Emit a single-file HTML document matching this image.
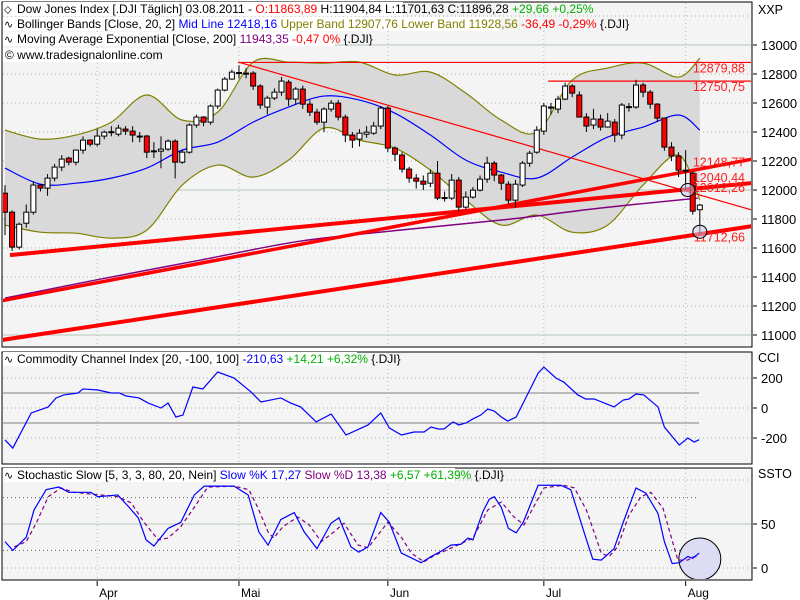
<!DOCTYPE html>
<html><head><meta charset="utf-8"><style>
html,body{margin:0;padding:0;background:#fff;}
svg{display:block;font-family:"Liberation Sans",sans-serif;}
</style></head><body>
<svg id="chart" width="800" height="600" viewBox="0 0 800 600" xmlns="http://www.w3.org/2000/svg">
<defs>
<clipPath id="cMain"><rect x="3" y="3" width="748" height="343"/></clipPath>
<clipPath id="cCci"><rect x="3" y="353" width="748" height="110"/></clipPath>
<clipPath id="cSto"><rect x="3" y="469" width="748" height="110"/></clipPath>
</defs>
<rect x="2" y="2" width="750" height="345" fill="#f4f4f4" stroke="#000"/>
<rect x="2" y="352" width="750" height="112" fill="#f4f4f4" stroke="#000"/>
<rect x="2" y="468" width="750" height="112" fill="#f4f4f4" stroke="#000"/>
<g id="grid"></g>
<g id="mainG" clip-path="url(#cMain)"></g>
<g id="cciG" clip-path="url(#cCci)"></g>
<g id="stoG" clip-path="url(#cSto)"></g>
<g id="axes"></g>
<g id="legends" font-size="12"></g>
</svg>
<script>
// ---- data ----
const openP=[11978,11847,11606,11771,11847,12034,12013,12082,12158,12220,12192,12275,12344,12316,12372,12399,12385,12420,12406,12372,12372,12268,12268,12282,12337,12192,12261,12448,12503,12468,12579,12689,12765,12806,12806,12806,12717,12572,12634,12675,12744,12627,12696,12592,12537,12468,12558,12599,12503,12379,12351,12385,12392,12441,12565,12289,12241,12144,12082,12061,12047,12116,11944,11944,12068,11882,11951,11999,12075,12185,12103,12040,11930,12034,12185,12261,12406,12572,12558,12627,12717,12655,12503,12448,12489,12434,12468,12379,12572,12572,12724,12675,12592,12496,12296,12234,12137,12116,11864];
const closeP=[11847,11606,11764,11847,12034,12013,12082,12158,12213,12192,12275,12344,12316,12372,12399,12402,12427,12406,12379,12370,12261,12270,12282,12337,12192,12261,12448,12503,12468,12579,12689,12765,12813,12810,12806,12717,12586,12634,12675,12751,12627,12696,12592,12537,12468,12558,12599,12503,12379,12344,12392,12399,12441,12565,12289,12247,12144,12082,12061,12040,12116,11944,11948,12068,11882,11951,11999,12075,12185,12103,12047,11930,12040,12185,12254,12413,12579,12565,12627,12717,12668,12503,12441,12489,12434,12475,12379,12586,12575,12724,12675,12592,12496,12296,12234,12137,12130,11854,11896];
const highP=[12034,11860,11775,11900,12060,12040,12110,12180,12240,12230,12280,12370,12350,12420,12410,12440,12450,12440,12440,12400,12380,12330,12370,12350,12350,12280,12460,12520,12510,12590,12700,12780,12830,12860,12840,12820,12730,12650,12700,12780,12760,12710,12720,12620,12560,12570,12620,12620,12520,12400,12420,12440,12470,12580,12580,12300,12260,12160,12110,12100,12140,12200,11990,12110,12090,11990,12020,12100,12230,12200,12110,12060,12070,12200,12270,12440,12600,12600,12650,12740,12730,12680,12530,12560,12520,12530,12490,12600,12600,12760,12740,12690,12600,12500,12330,12260,12275,12130,11905];
const lowP=[11689,11580,11590,11740,11830,11990,11960,12060,12130,12170,12170,12250,12300,12300,12350,12370,12370,12380,12330,12330,12220,12220,12150,12270,12080,12180,12250,12430,12440,12450,12560,12680,12760,12770,12770,12690,12560,12520,12620,12650,12580,12590,12560,12510,12450,12400,12540,12480,12330,12290,12300,12360,12380,12420,12260,12200,12120,12050,12010,12000,12020,11930,11920,11930,11850,11870,11940,11990,12050,12060,12000,11900,11880,12020,12160,12250,12380,12520,12530,12620,12640,12500,12400,12420,12410,12430,12330,12350,12540,12560,12640,12560,12470,12270,12200,12090,12000,11830,11702];
const bandIdx=[0,5,10,15,20,25,30,35,40,45,50,55,60,65,70,75,80,85,90,95,98];
const upperBand=[12413,12351,12379,12468,12655,12482,12537,12882,12882,12875,12882,12793,12813,12668,12482,12399,12758,12841,12875,12779,12910];
const midBand=[12151,12040,12047,12082,12151,12275,12330,12468,12572,12648,12620,12530,12379,12206,12123,12082,12227,12365,12434,12517,12413];
const lowerBand=[11758,11709,11702,11668,11723,12034,12172,12089,12206,12427,12344,12289,12137,11930,11758,11827,11709,11758,12034,12241,11930];
const emaIdx=[0,13.4,27.5,41.6,55.7,71.2,83.9,97.7];
const emaVal=[11254,11385,11516,11647,11723,11799,11875,11944];
const cciIdx=[0,1.1,3.7,6.1,7.2,8.3,10.3,11,13.1,15,16.1,17.1,18.9,20.2,22,23,24.1,25.1,26.5,27.9,30,32.3,34.7,36.1,38.9,40.3,41.7,43.9,46,48.1,51.2,53,54.2,55.9,57.7,59.1,60.1,61.1,61.9,63.2,64,65,66,67.1,68.1,69,70,70.9,72.1,73.8,75.2,76,77.7,78.8,80.8,81.9,83.1,85.9,87.2,88,89,90.1,92.1,93,95.1,96.3,97.2,97.9];
const cciVal=[-213,-267,-33,7,67,87,100,127,120,100,100,80,67,33,0,33,-60,-47,140,127,240,200,107,40,67,33,7,-93,-40,-180,-113,-33,-133,-180,-160,-160,-127,-140,-140,-93,-113,-100,-73,-47,-7,-20,-60,-87,-60,100,233,273,200,173,87,60,60,7,53,60,93,87,7,-127,-247,-200,-227,-211];
const kIdx=[0,1.1,3,4.1,5.8,7.6,9,12.1,13.1,15.9,17.5,18.8,19.9,21,23,24.8,26.7,28.1,32.3,34.3,35.8,37.1,38.9,40.8,42.2,44,46,47.1,48.8,49.9,51.2,53,54.2,55.9,58.7,60.1,61.5,62.9,64.3,65.3,66,67.4,68.3,69,70,71,72.1,73.1,75.2,78.4,79.8,81.7,82.9,84.1,85.9,87.2,89,90.4,92.1,93,94.1,95.1,96.3,97,97.9];
const kVal=[30,20,35,66,89,92,86,86,81,83,69,57,32,25,45,52,83,93,93,83,41,26,55,63,41,22,51,57,24,18,24,63,52,17,6,13,19,26,27,34,32,64,78,81,69,45,40,52,94,94,89,40,10,9,22,52,91,85,62,30,5,6,13,11,17];
const dIdx=[1.3,3,4.4,6.1,7.9,9.7,15.9,17.8,19.6,21.6,23,24.8,26.7,28.6,32.3,34.4,35.7,37.1,37.9,39.2,41.3,42.9,44.6,46.4,47.8,49.8,51.2,54,55.9,57.3,59.1,60.5,63.3,66,68.1,70,71.8,73.2,76,78.8,80.3,82,84.1,85.2,86.4,88,89.7,91.1,92.8,94.9,96.3,97.2,97.9];
const dVal=[24,30,51,81,91,86,81,74,52,32,34,47,69,92,93,89,68,41,34,47,58,49,30,41,51,26,23,52,35,17,7,14,24,34,66,75,58,49,91,94,91,66,17,13,24,60,81,86,68,9,9,13,13];
const priceTicks=[13000,12800,12600,12400,12200,12000,11800,11600,11400,11200,11000];
const cciTicks=[200,0,-200];
const stoTicks=[50,0];
const monthLabels=["Apr","Mai","Jun","Jul","Aug"];
const monthIdx=[13,33,54,76,96];
const trendLines=[[-0.4,10966,105.4,11751],[0.7,11551,105.4,12048],[-0.4,11237,105.4,12213],[32.9,12882,105.4,11861]];
const levelPrices=[12879.88,12750.75];
const levelStart=[32.9,76.6];
const markerLabels=["12879,88","12750,75","12148,77","12040,44","12012,26","11712,66"];
const markerPrices=[12879.88,12750.75,12148.77,12040.44,12012.26,11712.66];
// ---- scales ----
const NS="http://www.w3.org/2000/svg";
const X=i=>5+i*7.09;
const Y=p=>45+(13000-p)*0.145;
const YC=v=>408-v*0.15;
const YS=v=>568-v*0.88;
function el(tag,attrs,parent,txt){const e=document.createElementNS(NS,tag);for(const k in attrs)e.setAttribute(k,attrs[k]);if(txt!==undefined)e.textContent=txt;parent.appendChild(e);return e;}
function smooth(pts){let d='M'+pts[0][0]+','+pts[0][1];for(let i=0;i<pts.length-1;i++){const p0=pts[Math.max(0,i-1)],p1=pts[i],p2=pts[i+1],p3=pts[Math.min(pts.length-1,i+2)];
 d+=' C'+(p1[0]+(p2[0]-p0[0])/6)+','+(p1[1]+(p2[1]-p0[1])/6)+' '+(p2[0]-(p3[0]-p1[0])/6)+','+(p2[1]-(p3[1]-p1[1])/6)+' '+p2[0]+','+p2[1];}return d;}
const grid=document.getElementById('grid'),mainG=document.getElementById('mainG'),cciG=document.getElementById('cciG'),stoG=document.getElementById('stoG'),axes=document.getElementById('axes');
// grid
const dots="1 3";
[13200,12800,12600,12400,12200,11800,11600,11400,11200].forEach(p=>{const l=el('line',{x1:3,x2:751,y1:Y(p),y2:Y(p),stroke:'#a8b4a8','stroke-dasharray':dots},grid);});
[13000,12000,11000].forEach(p=>{const l=el('line',{x1:3,x2:751,y1:Y(p),y2:Y(p),stroke:'#b4c8b4'},grid);});
[200,0,-200].forEach(v=>{const l=el('line',{x1:3,x2:751,y1:YC(v),y2:YC(v),stroke:'#a8b4a8','stroke-dasharray':dots},grid);});
[100,-100].forEach(v=>{const l=el('line',{x1:3,x2:699,y1:YC(v),y2:YC(v),stroke:'#808080'},grid);});
[100,0].forEach(v=>{const l=el('line',{x1:3,x2:751,y1:YS(v),y2:YS(v),stroke:'#a8b4a8','stroke-dasharray':dots},grid);});
[80,20].forEach(v=>{const l=el('line',{x1:3,x2:699,y1:YS(v),y2:YS(v),stroke:'#606060','stroke-dasharray':dots},grid);});
{const l=el('line',{x1:3,x2:751,y1:YS(50),y2:YS(50),stroke:'#b4c8b4'},grid);}
monthIdx.forEach((m,k)=>{[[3,346],[353,463],[469,579]].forEach(r=>{const l=el('line',{x1:X(m),x2:X(m),y1:r[0],y2:r[1],stroke:'#a8c0a8','stroke-dasharray':dots},grid);});
 const t=el('line',{x1:X(m),x2:X(m),y1:581,y2:586,stroke:'#000'},axes);
 const tx=el('text',{x:X(m)+2,y:597,'font-size':12,fill:'#000'},axes,monthLabels[k]);});
// bands
const upPts=bandIdx.map((i,k)=>[X(i),Y(upperBand[k])]),loPts=bandIdx.map((i,k)=>[X(i),Y(lowerBand[k])]);
const upD=smooth(upPts),loRevD=smooth(loPts.slice().reverse());
const band=el('path',{d:upD+' L'+loRevD.slice(1)+' Z',fill:'#d9d9d9'},mainG);

const ub=el('path',{d:upD,fill:'none',stroke:'#808000','stroke-width':1.2},mainG);
const lb=el('path',{d:smooth(loPts),fill:'none',stroke:'#808000','stroke-width':1.2},mainG);
const mb=el('path',{d:smooth(bandIdx.map((i,k)=>[X(i),Y(midBand[k])])),fill:'none',stroke:'#0000ff','stroke-width':1.2},mainG);
const em=el('path',{d:smooth(emaIdx.map((i,k)=>[X(i),Y(emaVal[k])])),fill:'none',stroke:'#800080','stroke-width':1.5},mainG);
// trend lines
const tw=[4,4,3.5,1.2];
trendLines.forEach((t,k)=>{const l=el('line',{x1:X(t[0]),y1:Y(t[1]),x2:X(t[2]),y2:Y(t[3]),stroke:'#ff0000','stroke-width':tw[k]},mainG);});
levelPrices.forEach((p,k)=>{const l=el('line',{x1:X(levelStart[k]),x2:751,y1:Y(p),y2:Y(p),stroke:'#ff0000','stroke-width':1.2},mainG);});
// candles
openP.forEach((o,i)=>{const c=closeP[i],x=X(i);const g=el('g',{},mainG);
 el('line',{x1:x,x2:x,y1:Y(highP[i]),y2:Y(lowP[i]),stroke:'#000'},g);
 const top=Y(Math.max(o,c)),bot=Y(Math.min(o,c));
 el('rect',{x:x-2.5,y:top,width:5,height:Math.max(1,bot-top),fill:c>=o?'#fff':'#ff0000',stroke:'#000'},g);});
// marker labels
markerPrices.forEach((p,k)=>{const t=el('text',{x:745,y:Y(p)+(k===0||k===1||k===5?10:(k===4?4:-2)),'font-size':12.5,fill:'#ff2020','text-anchor':'end'},mainG,markerLabels[k]);});
[[X(96.3),Y(12000)],[X(98),Y(11712)]].forEach(c=>{const e=el('ellipse',{cx:c[0],cy:c[1],rx:7,ry:6.5,fill:'rgba(200,200,240,0.5)',stroke:'#000'},mainG);});
// cci
const cl=el('polyline',{points:cciIdx.map((i,k)=>X(i)+','+YC(cciVal[k])).join(' '),fill:'none',stroke:'#0000ff','stroke-width':1.2},cciG);
// stochastic
const sc=el('circle',{cx:X(98),cy:559,r:21,fill:'#dcdcf4',stroke:'#000'},stoG);
const dl=el('polyline',{points:dIdx.map((i,k)=>X(i)+','+YS(dVal[k])).join(' '),fill:'none',stroke:'#800080','stroke-width':1.2,'stroke-dasharray':'4 3'},stoG);
const kl=el('polyline',{points:kIdx.map((i,k)=>X(i)+','+YS(kVal[k])).join(' '),fill:'none',stroke:'#0000ff','stroke-width':1.2},stoG);
// axes
function ytick(y,label,name){const l=el('line',{x1:753,x2:757,y1:y,y2:y,stroke:'#000'},axes);
 const t=el('text',{x:761,y:y+5,'font-size':13,fill:'#000'},axes,label);}
priceTicks.forEach(p=>ytick(Y(p),String(p),'price-axis'));
cciTicks.forEach(v=>ytick(YC(v),String(v),'cci-axis'));
stoTicks.forEach(v=>ytick(YS(v),String(v),'sto-axis'));
[["XXP",14,'price-axis-title'],["CCI",362,'cci-axis-title'],["SSTO",478,'sto-axis-title']].forEach(a=>{const t=el('text',{x:758,y:a[1],'font-size':12.5,fill:'#000'},axes,a[0]);});
</script>
<script>
(function(){
const NS="http://www.w3.org/2000/svg",L=document.getElementById('legends');
function line(y,w,parts,name,icon){const g=document.createElementNS(NS,'g');L.appendChild(g);
 
 
 const r=document.createElementNS(NS,'rect');r.setAttribute('x',3);r.setAttribute('y',y-11);r.setAttribute('width',w);r.setAttribute('height',14);r.setAttribute('fill','#fff');g.appendChild(r);
 const t=document.createElementNS(NS,'text');t.setAttribute('x',icon?17:5);t.setAttribute('y',y);g.appendChild(t);
 parts.forEach(p=>{const s=document.createElementNS(NS,'tspan');s.setAttribute('fill',p[1]);s.textContent=p[0];t.appendChild(s);});
 if(icon){const ic=document.createElementNS(NS,'text');ic.setAttribute('x',4);ic.setAttribute('y',y);ic.setAttribute('font-size',11);ic.textContent=icon;g.appendChild(ic);}
}
line(13,400,[["Dow Jones Index [.DJI  Täglich] 03.08.2011 - ","#000"],["O:11863,89","#ff0000"],[" H:11904,84 L:11701,63 C:11896,28 ","#000"],["+29,66 +0,25%","#00b000"]],'price-legend','\u2b26');
line(28,496,[["Bollinger Bands [Close, 20, 2] ","#000"],["Mid Line 12418,16 ","#0000ff"],["Upper Band 12907,76 Lower Band 11928,56 ","#808000"],["-36,49 -0,29% ","#ff0000"],["{.DJI}","#000"]],'bollinger-legend','\u223f');
line(43,332,[["Moving Average Exponential [Close, 200] ","#000"],["11943,35 ","#800080"],["-0,47 0% ","#ff0000"],["{.DJI}","#000"]],'ema-legend','\u223f');
line(59,142,[["\u00a9 www.tradesignalonline.com","#000"]],'copyright-note');
line(363,354,[["Commodity Channel Index [20, -100, 100] ","#000"],["-210,63 ","#0000ff"],["+14,21 +6,32% ","#00b000"],["{.DJI}","#000"]],'cci-legend','\u223f');
line(479,452,[["Stochastic Slow [5, 3, 3, 80, 20, Nein] ","#000"],["Slow %K 17,27 ","#0000ff"],["Slow %D 13,38 ","#800080"],["+6,57 +61,39% ","#00b000"],["{.DJI}","#000"]],'stochastic-legend','\u223f');
})();
</script>
</body></html>
